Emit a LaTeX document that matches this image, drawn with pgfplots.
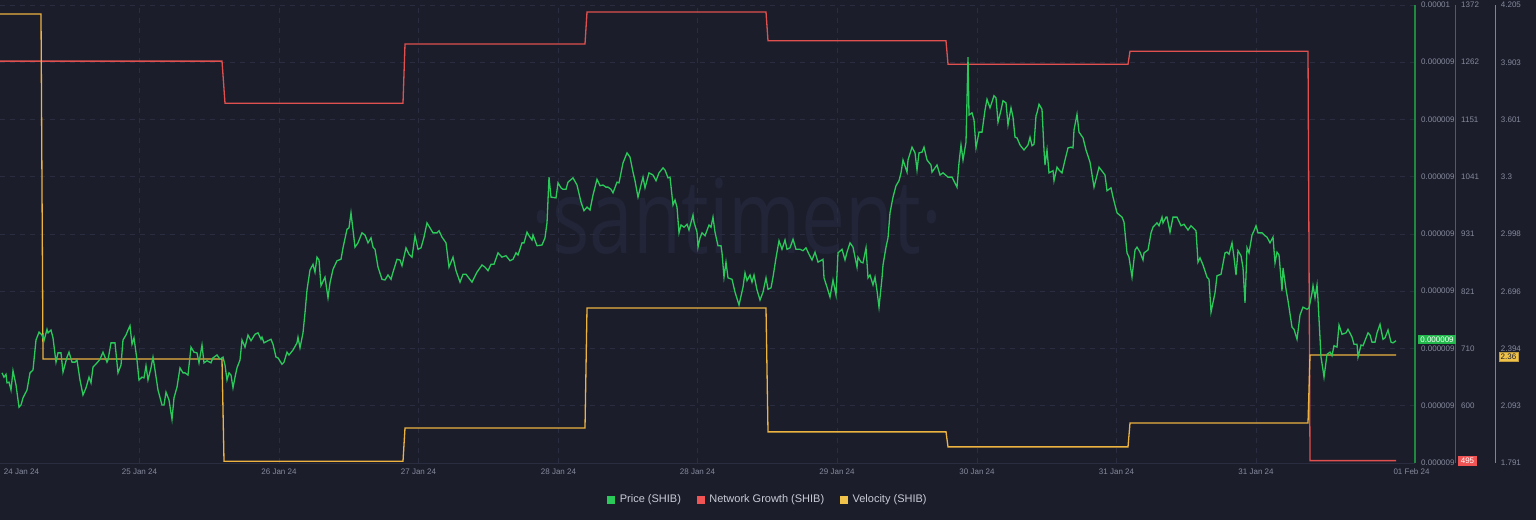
\documentclass[border=0pt]{standalone}
\usepackage{pgfplots}
\pgfplotsset{compat=1.18}
\usepackage{fontspec}
\setmainfont{Liberation Sans}
\newfontfamily\wmfont{Open Sans}
\definecolor{bg}{HTML}{1B1D2B}
\definecolor{gridc}{HTML}{2A2D3F}
\definecolor{tickc}{HTML}{858A9C}
\definecolor{legc}{HTML}{C9CCD6}
\definecolor{wm}{HTML}{222538}
\definecolor{pgreen}{HTML}{2BC85A}
\definecolor{nred}{HTML}{E0504F}
\definecolor{vyel}{HTML}{EDB340}
\definecolor{axisgreen}{HTML}{1E8A40}
\definecolor{axisred}{HTML}{AA3440}
\definecolor{axisyellow}{HTML}{AC802C}
\definecolor{boxg}{HTML}{22B84C}
\definecolor{boxr}{HTML}{F05454}
\definecolor{boxy}{HTML}{F0C24A}

\pgfplotstableread{
x p
2 9.035
4 9.029
6 9.033
7 9.021
9 9.022
11 9.011
13 9.038
16 9.018
19 8.987
21 8.990
23 9.000
27 9.011
30 9.035
33 9.039
36 9.081
39 9.092
42 9.088
44 9.080
47 9.096
48 9.091
51 9.095
53 9.084
56 9.050
58 9.063
61 9.063
63 9.036
67 9.057
69 9.064
72 9.050
75 9.050
77 9.053
80 9.025
83 9.004
86 9.014
89 9.029
91 9.021
93 9.043
97 9.049
100 9.054
103 9.064
107 9.050
108 9.053
111 9.077
115 9.077
118 9.035
121 9.046
123 9.081
126 9.088
128 9.095
130 9.101
132 9.075
134 9.084
137 9.053
139 9.025
142 9.029
144 9.028
146 9.045
148 9.025
151 9.042
153 9.057
155 9.039
158 9.011
162 8.990
164 8.990
166 9.008
169 8.997
172 8.970
174 9.000
177 9.015
180 9.042
183 9.035
185 9.035
188 9.032
191 9.071
194 9.064
197 9.063
199 9.049
202 9.074
204 9.049
207 9.052
211 9.049
213 9.056
217 9.060
220 9.054
223 9.057
225 9.046
227 9.025
229 9.035
231 9.032
233 9.014
235 9.029
237 9.042
240 9.053
242 9.081
245 9.071
248 9.088
251 9.080
255 9.089
258 9.091
261 9.082
262 9.085
264 9.077
268 9.080
271 9.082
273 9.075
276 9.057
278 9.056
282 9.047
284 9.050
287 9.064
289 9.060
293 9.067
297 9.077
298 9.085
300 9.070
303 9.091
305 9.119
307 9.151
310 9.179
313 9.187
315 9.176
317 9.197
319 9.193
321 9.157
325 9.169
328 9.140
330 9.161
333 9.180
337 9.192
341 9.194
343 9.210
347 9.236
349 9.238
351 9.259
353 9.235
355 9.211
358 9.217
362 9.231
365 9.228
368 9.217
371 9.224
373 9.211
375 9.208
378 9.183
382 9.166
385 9.165
388 9.172
391 9.166
393 9.176
397 9.194
400 9.193
402 9.185
406 9.210
409 9.201
412 9.197
415 9.227
418 9.208
421 9.210
424 9.225
427 9.245
430 9.238
433 9.231
437 9.231
439 9.234
442 9.225
446 9.217
449 9.183
453 9.197
456 9.178
460 9.162
463 9.173
466 9.173
472 9.162
477 9.176
482 9.186
485 9.183
488 9.178
491 9.187
494 9.187
498 9.203
502 9.197
506 9.199
510 9.192
513 9.194
516 9.203
518 9.200
522 9.217
524 9.217
527 9.232
529 9.227
532 9.221
533 9.228
537 9.213
542 9.214
545 9.224
547 9.245
549 9.309
551 9.281
556 9.280
558 9.301
561 9.294
563 9.292
566 9.292
568 9.302
573 9.308
577 9.298
581 9.274
584 9.262
587 9.267
590 9.263
593 9.284
597 9.306
600 9.297
603 9.298
606 9.295
608 9.295
611 9.292
613 9.287
617 9.302
619 9.301
623 9.329
627 9.343
630 9.337
633 9.316
635 9.304
638 9.281
641 9.298
643 9.309
645 9.294
649 9.315
653 9.312
656 9.304
659 9.315
663 9.322
665 9.319
668 9.308
670 9.309
673 9.270
675 9.277
677 9.267
679 9.231
681 9.242
684 9.239
687 9.243
689 9.235
693 9.256
694 9.246
697 9.232
698 9.211
700 9.224
702 9.231
705 9.227
709 9.242
711 9.239
713 9.253
715 9.232
718 9.213
721 9.213
722 9.203
724 9.169
726 9.190
728 9.168
732 9.166
735 9.148
739 9.130
743 9.155
745 9.175
747 9.164
750 9.172
752 9.162
754 9.172
757 9.151
760 9.137
763 9.148
766 9.168
768 9.152
771 9.154
773 9.169
776 9.196
779 9.220
782 9.208
785 9.221
787 9.208
790 9.210
793 9.222
796 9.208
800 9.208
803 9.206
806 9.210
809 9.201
812 9.193
815 9.204
818 9.190
823 9.194
824 9.168
827 9.155
830 9.141
833 9.165
836 9.144
838 9.203
842 9.208
845 9.193
847 9.204
850 9.217
853 9.211
855 9.197
857 9.183
858 9.197
861 9.190
863 9.189
866 9.210
868 9.168
870 9.172
873 9.158
875 9.169
877 9.150
879 9.127
882 9.168
883 9.186
886 9.211
888 9.224
890 9.259
893 9.281
896 9.297
899 9.304
901 9.315
903 9.333
907 9.316
908 9.333
912 9.351
915 9.343
917 9.319
919 9.343
922 9.344
924 9.351
927 9.333
931 9.326
932 9.316
937 9.326
940 9.312
943 9.315
948 9.309
952 9.309
957 9.295
959 9.329
961 9.354
963 9.333
966 9.358
968 9.477
969 9.396
972 9.399
974 9.389
976 9.350
979 9.372
982 9.372
985 9.403
987 9.418
990 9.406
994 9.423
996 9.420
998 9.386
1001 9.403
1003 9.416
1006 9.413
1008 9.382
1011 9.406
1013 9.393
1015 9.365
1017 9.364
1020 9.354
1024 9.347
1028 9.354
1030 9.365
1032 9.353
1034 9.355
1036 9.395
1037 9.399
1039 9.411
1042 9.404
1044 9.347
1045 9.326
1047 9.347
1049 9.315
1053 9.318
1054 9.304
1057 9.323
1059 9.319
1062 9.315
1065 9.333
1068 9.350
1071 9.351
1073 9.350
1074 9.375
1077 9.397
1079 9.372
1083 9.364
1086 9.347
1090 9.330
1094 9.295
1099 9.323
1105 9.312
1107 9.290
1111 9.294
1113 9.281
1117 9.259
1122 9.253
1124 9.246
1127 9.203
1129 9.197
1132 9.169
1135 9.207
1137 9.211
1140 9.204
1143 9.193
1144 9.203
1148 9.207
1151 9.231
1153 9.239
1157 9.245
1159 9.241
1162 9.253
1163 9.245
1166 9.253
1167 9.253
1170 9.232
1173 9.253
1177 9.253
1181 9.241
1184 9.243
1188 9.235
1191 9.241
1196 9.234
1198 9.190
1200 9.196
1203 9.186
1207 9.169
1209 9.166
1211 9.120
1215 9.147
1217 9.171
1221 9.173
1225 9.203
1227 9.204
1229 9.201
1232 9.217
1234 9.197
1236 9.172
1238 9.206
1241 9.199
1243 9.182
1245 9.133
1247 9.210
1249 9.203
1252 9.228
1254 9.234
1256 9.241
1258 9.231
1262 9.231
1265 9.227
1267 9.225
1270 9.217
1273 9.225
1275 9.189
1277 9.204
1279 9.200
1282 9.150
1283 9.182
1286 9.152
1288 9.136
1292 9.099
1294 9.096
1297 9.082
1300 9.116
1303 9.127
1307 9.124
1309 9.126
1312 9.147
1313 9.157
1315 9.140
1317 9.158
1318 9.137
1321 9.057
1323 9.039
1324 9.029
1327 9.061
1330 9.064
1332 9.059
1334 9.073
1337 9.071
1339 9.102
1342 9.089
1346 9.091
1348 9.096
1352 9.085
1354 9.075
1357 9.075
1358 9.057
1361 9.074
1363 9.073
1368 9.091
1370 9.088
1372 9.078
1375 9.078
1377 9.091
1380 9.103
1383 9.082
1385 9.084
1388 9.095
1391 9.078
1393 9.077
1396 9.080
}\pricetable

\pgfplotstableread{
x n
0 1264
222 1264
225 1183
403 1183
405 1297
585 1297
587 1358.5
766 1358.5
768 1303
946 1303
948 1258
1128 1258
1130 1283
1308 1283
1310 495
1396 495
}\nettable

\pgfplotstableread{
x v
0 4.158
41 4.158
43 2.339
222 2.339
224 1.800
403 1.800
405 1.976
585 1.976
587 2.608
766 2.608
768 1.955
946 1.955
948 1.876
1128 1.876
1130 2.002
1308 2.002
1310 2.360
1396 2.360
}\veltable

\pgfplotsset{
  base/.style={
    at={(0pt,57pt)}, anchor=south west, scale only axis,
    width=1415pt, height=458pt, xmin=0, xmax=1415,
    major tick length=0pt,
    ticklabel style={text=tickc, font=\fontsize{8}{9}\selectfont},
    /pgf/number format/assume math mode=true,
  },
}

\begin{document}
\begin{tikzpicture}[x=1pt,y=1pt]
\useasboundingbox (0,0) rectangle (1536,520);
\fill[bg] (0,0) rectangle (1536,520);
\node[anchor=base, text=wm, inner sep=0pt] at (737,266)
  {\scalebox{0.76}[1]{\wmfont\fontsize{103}{103}\selectfont ·santiment·}};

% network growth axis, with grid and date labels
\begin{axis}[base,
  ymin=490.4, ymax=1372,
  axis x line*=bottom, axis y line*=right,
  x axis line style={draw=gridc, line width=0.8pt, -},
  y axis line style={draw=none},
  xmajorgrids, ymajorgrids,
  grid style={draw=gridc, line width=0.7pt, dash pattern=on 5pt off 5pt},
  xtick={139.5,279,418.5,558.5,697.5,837,977,1116.5,1256},
  xticklabels={25 Jan 24,26 Jan 24,27 Jan 24,28 Jan 24,28 Jan 24,29 Jan 24,30 Jan 24,31 Jan 24,31 Jan 24},
  extra x ticks={21.5,1411.5},
  extra x tick labels={24 Jan 24,01 Feb 24},
  extra x tick style={grid=none},
  xticklabel style={anchor=center, yshift=-9pt},
  ytick={490.4,600.6,710.8,821,931.2,1041.4,1151.6,1261.8,1372},
  yticklabels={,600,710,821,931,1041,1151,1262,1372},
  yticklabel style={anchor=west, inner sep=0pt, xshift=46pt},
]
\addplot[nred, line width=1.3pt] table[x=x, y=n] {\nettable};
\end{axis}

% velocity axis
\begin{axis}[base,
  ymin=1.791, ymax=4.205,
  axis x line=none, axis y line*=right,
  y axis line style={draw=none},
  xtick=\empty,
  ytick={1.791,2.093,2.394,2.696,2.998,3.3,3.601,3.903,4.205},
  yticklabels={1.791,2.093,2.394,2.696,2.998,3.3,3.601,3.903,4.205},
  yticklabel style={anchor=west, inner sep=0pt, xshift=85.7pt},
]
\addplot[vyel, line width=1.3pt] table[x=x, y=v] {\veltable};
\end{axis}

% price axis
\begin{axis}[base,
  ymin=8.9088, ymax=9.55,
  axis x line=none, axis y line*=right,
  y axis line style={draw=axisgreen, line width=1.3pt, -},
  xtick=\empty,
  ytick={8.9088,8.9890,9.0691,9.1493,9.2294,9.3096,9.3897,9.4699,9.55},
  yticklabels={0.000009,0.000009,0.000009,0.000009,0.000009,0.000009,0.000009,0.000009,0.00001},
  yticklabel style={anchor=west, inner sep=0pt, xshift=6pt},
  legend columns=3,
  legend style={at={(0.54276,-0.0797)}, anchor=center, draw=none, fill=none,
    text=legc, font=\fontsize{11}{13}\selectfont,
    /tikz/every even column/.append style={column sep=14pt}},
]
\addplot[pgreen, line width=1.3pt, forget plot] table[x=x, y=p] {\pricetable};
\addlegendimage{legend image code/.code={\fill[pgreen] (0pt,-3.5pt) rectangle (7pt,3.5pt);}}
\addlegendentry{\hspace{3pt}Price (SHIB)}
\addlegendimage{legend image code/.code={\fill[boxr] (0pt,-3.5pt) rectangle (7pt,3.5pt);}}
\addlegendentry{\hspace{3pt}Network Growth (SHIB)}
\addlegendimage{legend image code/.code={\fill[boxy] (0pt,-3.5pt) rectangle (7pt,3.5pt);}}
\addlegendentry{\hspace{3pt}Velocity (SHIB)}
\end{axis}

\fill[axisred] (1454.7,57) rectangle (1456.3,515);
\fill[axisyellow] (1494.7,57) rectangle (1496.3,515);

\node[fill=boxg, text=white, inner sep=0pt, minimum width=38pt, minimum height=9.5pt,
  font=\fontsize{8}{9}\selectfont] at (1437,180.5) {0.000009};
\node[fill=boxr, text=white, inner sep=0pt, minimum width=19pt, minimum height=10pt,
  font=\fontsize{8}{9}\selectfont] at (1467.5,59) {495};
\node[fill=boxy, draw=boxy!80!black, text=bg, inner sep=0pt, minimum width=19pt, minimum height=9.5pt,
  font=\fontsize{8}{9}\selectfont] at (1508.5,163.5) {2.36};
\end{tikzpicture}
\end{document}
